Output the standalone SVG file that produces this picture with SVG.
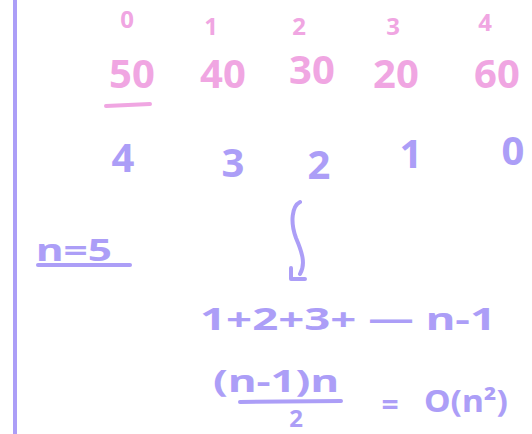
<svg xmlns="http://www.w3.org/2000/svg" width="532" height="434" viewBox="0 0 532 434">
<style>
.p{fill:#f0a6e2;font-family:"Noto Sans",sans-serif;text-anchor:middle;font-weight:bold}
.v{fill:#ac9ef7;font-family:"Noto Sans",sans-serif;text-anchor:middle;font-weight:bold}
.s{fill:none;stroke:#ac9ef7;stroke-width:4;stroke-linecap:round;stroke-linejoin:round}
.sp{fill:none;stroke:#f0a6e2;stroke-width:4;stroke-linecap:round}
.i{font-size:24px}
.n{font-size:40px}
.b{font-size:40px}
.e{font-size:30px}
</style>
<rect width="532" height="434" fill="#ffffff"/>
<g id="margin"><path class="s" d="M15 0 V434"/></g>
<g id="indices">
<text class="p i" x="127" y="28">0</text>
<text class="p i" x="211" y="35">1</text>
<text class="p i" x="299" y="35">2</text>
<text class="p i" x="393" y="35">3</text>
<text class="p i" x="485" y="31">4</text>
</g>
<g id="values">
<text class="p n" x="132" y="88">50</text>
<text class="p n" x="223" y="88">40</text>
<text class="p n" x="312" y="84">30</text>
<text class="p n" x="396" y="88">20</text>
<text class="p n" x="497" y="88">60</text>
<path class="sp" d="M106 106 L150 104"/>
</g>
<g id="counts">
<text class="v b" x="123" y="172">4</text>
<text class="v b" x="233" y="177">3</text>
<text class="v b" x="319" y="179">2</text>
<text class="v b" x="411" y="168">1</text>
<text class="v b" x="513" y="165">0</text>
</g>
<g id="nlabel">
<text class="v e" x="74" y="261" textLength="76" lengthAdjust="spacingAndGlyphs">n=5</text>
<path class="s" d="M38 265 L130 265"/>
</g>
<g id="connectors">
<path class="s" d="M300 202 C292 206 290 222 296 238 C302 252 306 264 300 274"/>
<path class="s" d="M291 268 L291 279 L305 279"/>
</g>
<g id="sum">
<text class="v e" x="348" y="330" textLength="296" lengthAdjust="spacingAndGlyphs">1+2+3+ — n-1</text>
</g>
<g id="formula">
<text class="v e" x="276" y="392" textLength="126" lengthAdjust="spacingAndGlyphs">(n-1)n</text>
<path class="s" d="M240 402 L341 401"/>
<text class="v" style="font-size:24px" x="296" y="427">2</text>
<text class="v e" x="390" y="415">=</text>
<text class="v e" x="466" y="412" textLength="84" lengthAdjust="spacingAndGlyphs">O(n²)</text>
</g>
</svg>
